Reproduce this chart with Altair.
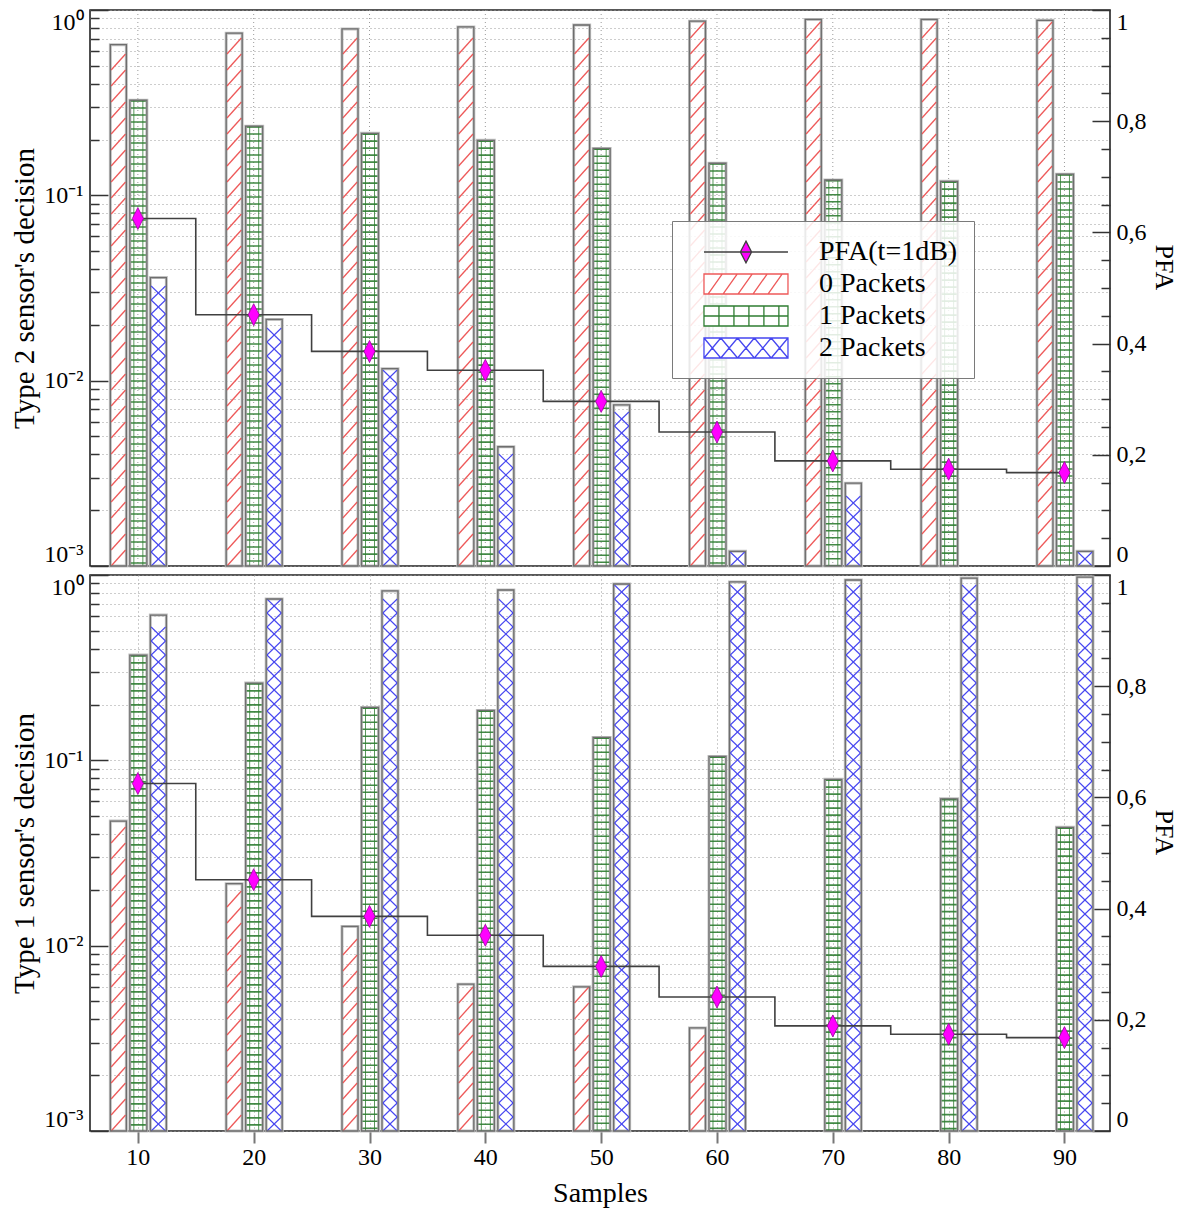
import altair as alt
import pandas as pd
import numpy as np

# ---------------- data ----------------
samples = [10, 20, 30, 40, 50, 60, 70, 80, 90]
pfa = [0.625, 0.452, 0.386, 0.352, 0.296, 0.241, 0.189, 0.174, 0.168]

# Type 2 sensor's decision (top panel)
t2_zero = [0.65, 0.75, 0.79, 0.81, 0.83, 0.87, 0.89, 0.89, 0.88]
t2_one = [0.326, 0.236, 0.216, 0.198, 0.179, 0.149, 0.121, 0.119, 0.130]
t2_two = [0.036, 0.0214, 0.0116, 0.0044, 0.0074, 0.0012, 0.0028, None, 0.0012]

# Type 1 sensor's decision (bottom panel)
t1_zero = [0.047, 0.0216, 0.0127, 0.0062, 0.0060, 0.0036, None, None, None]
t1_one = [0.37, 0.261, 0.193, 0.186, 0.133, 0.105, 0.079, 0.062, 0.0435]
t1_two = [0.608, 0.742, 0.82, 0.83, 0.894, 0.917, 0.94, 0.963, 0.975]

series_names = ["PFA(t=1dB)", "0 Packets", "1 Packets", "2 Packets"]
x_title = "Samples"
y2_title = "PFA"
top_title = "Type 2 sensor's decision"
bottom_title = "Type 1 sensor's decision"
log_major = [0.001, 0.01, 0.1, 1]
log_minor = [m * 10.0 ** e for e in (-3, -2, -1) for m in range(2, 10)]
pfa_major = [0, 0.2, 0.4, 0.6, 0.8, 1]
pfa_minor = [round(0.05 * i, 2) for i in range(21) if i % 4]

# ---------------- layout / style ----------------
W, H = 1020, 556
XDOM = [6.3, 93.5]
PXDEC = H / 3.0
FONT = "Liberation Serif"
RED, GREEN, BLUE = "#ee5a5a", "#2f7d32", "#4646f0"
GRID = dict(grid=True, gridDash=[1, 3], gridColor="#9a9a9a", gridWidth=1)

xsc = alt.Scale(domain=XDOM, nice=False, zero=False)
ylog = alt.Scale(type="log", domain=[0.001, 1], nice=False, clamp=True)
ylin = alt.Scale(domain=[0, 1], nice=False, zero=False)


def x_axis(show):
    if show:
        return alt.Axis(values=samples, title=x_title, labelFontSize=24, titleFontSize=28,
                        tickSize=12, tickColor="#777", tickWidth=2, domain=False,
                        labelPadding=2, titlePadding=10, labelFlush=False, **GRID)
    return None


def log_axis(title):
    return alt.Axis(values=log_major, orient="left", offset=-18, tickSize=18, tickColor="#333",
                    tickWidth=1.5, domain=False, labelFlush=True, labelFontSize=24, labelPadding=7,
                    labelExpr="datum.value >= 0.5 ? '10⁰' : datum.value >= 0.05 ? '10⁻¹' : "
                              "datum.value >= 0.005 ? '10⁻²' : '10⁻³'",
                    title=title, titleFontSize=29, titlePadding=4, **GRID)


minor_log_axis = alt.Axis(values=log_minor, orient="left", offset=-9, tickSize=9, tickColor="#333",
                          tickWidth=1.5, domain=False, labels=False, title=None, **GRID)

pfa_axis = alt.Axis(values=pfa_major, orient="right", offset=-18, tickSize=18, tickColor="#333",
                    tickWidth=1.5, domain=False, grid=False, labelFlush=True, labelFontSize=24,
                    labelPadding=6, labelExpr="replace(format(datum.value, '.1~f'), '.', ',')",
                    title=y2_title, titleFontSize=26, titleAngle=90, titlePadding=4, titleY=H / 2 - 21)

minor_pfa_axis = alt.Axis(values=pfa_minor, orient="right", offset=-9, tickSize=9, tickColor="#333",
                          tickWidth=1.5, domain=False, grid=False, labels=False, title=None)


def hatch_df(vals, step_px, rise_px):
    rows = []
    for s, v in zip(samples, vals):
        if v is None:
            continue
        hpx = (np.log10(v) + 3) * PXDEC
        k = 0
        while k * step_px + rise_px <= hpx + 0.5:
            rows.append({"sample": s, "pos": 10 ** (-3 + k * step_px / PXDEC)})
            k += 1
    return pd.DataFrame(rows, columns=["sample", "pos"])


def bars_group(zero, one, two, ytitle, show_x):
    xa = x_axis(show_x)
    ya = log_axis(ytitle)

    def segs(df, color, lx, rx, yo, y2o, width=1.3):
        return alt.Chart(df).mark_rule(color=color, strokeWidth=width, xOffset=lx, x2Offset=rx,
                                       yOffset=yo, y2Offset=y2o).encode(
            x=alt.X("sample:Q", scale=xsc, axis=xa), x2="sample:Q",
            y=alt.Y("pos:Q", scale=ylog, axis=ya), y2="pos:Q")

    layers = []
    if not show_x:
        # vertical dotted grid at the sample ticks (the top panel has no x axis)
        layers.append(alt.Chart(pd.DataFrame({"sample": samples})).mark_rule(
            color="#9a9a9a", strokeWidth=1, strokeDash=[1, 3]).encode(
            x=alt.X("sample:Q", scale=xsc, axis=xa)))
    specs = [(zero, -19.5, 16), (one, 0.5, 17), (two, 20.5, 16)]
    for i, (vals, c, w) in enumerate(specs):
        df = pd.DataFrame({"sample": samples, "value": vals}).dropna()
        base = alt.Chart(df).encode(x=alt.X("sample:Q", scale=xsc, axis=xa),
                                    y=alt.Y("value:Q", scale=ylog, axis=ya),
                                    y2=alt.Y2Datum(0.001))
        layers.append(base.mark_bar(width=w, xOffset=c, fill="transparent", stroke="#c2c2c2",
                                    strokeWidth=3))
        left, right = c - w / 2 + 0.8, c + w / 2 - 0.8
        if i == 0:
            layers.append(segs(hatch_df(vals, 16, 16), RED, left, right, 0, -16))
        elif i == 1:
            layers.append(base.mark_rule(color=GREEN, strokeWidth=w - 2, strokeDash=[1.6, 5.4],
                                         strokeCap="butt", xOffset=c, opacity=0.9))
            layers.append(base.mark_rule(color=GREEN, strokeWidth=1, xOffset=c - 4.5, opacity=0.8))
            layers.append(base.mark_rule(color=GREEN, strokeWidth=1, xOffset=c + 4.5, opacity=0.8))
        else:
            hd = hatch_df(vals, 14, 14)
            layers.append(segs(hd, BLUE, left, right, 0, -14, 1.1))
            layers.append(segs(hd, BLUE, left, right, -14, 0, 1.1))
        layers.append(base.mark_bar(width=w, xOffset=c, fill="transparent", stroke="#6e6e6e",
                                    strokeWidth=1.3))
    return alt.layer(*layers)


def axis_dummy(values, scale, axis):
    return alt.Chart(pd.DataFrame({"v": values})).mark_point(opacity=0).encode(
        y=alt.Y("v:Q", scale=scale, axis=axis))


def pfa_group(show_x):
    xa = x_axis(show_x)
    df = pd.DataFrame({"sample": samples, "pfa": pfa})
    base = alt.Chart(df).encode(x=alt.X("sample:Q", scale=xsc, axis=xa),
                                y=alt.Y("pfa:Q", scale=ylin, axis=pfa_axis))
    line = base.mark_line(interpolate="step", color="#404040", strokeWidth=1.6)
    pts = base.mark_point(shape="M0,-1L0.5,0L0,1L-0.5,0Z", size=484, filled=True, fill="#ff00ff",
                          stroke="#9a009a", strokeWidth=0.8, opacity=1)
    return alt.layer(line, pts)


# legend symbols (custom paths, units of 14 px)
r, x0 = 0.714, 0.07
p_pfa = f"M{x0},0H{x0+6}M{x0+3},-0.78L{x0+3.4},0L{x0+3},0.78L{x0+2.6},0Z"
rect = f"M{x0},-{r}H{x0+6}V{r}H{x0}Z"
p_zero = rect + "".join(f"M{x0+0.3+1.07*k:.3f},{r}L{x0+1.3+1.07*k:.3f},-{r}" for k in range(5))
p_one = rect + f"M{x0},0H{x0+6}" + "".join(f"M{x0+1.07*k:.3f},-{r}V{r}" for k in range(1, 6))
p_two = rect + "".join(f"M{x0+1.2*k:.3f},{r}L{x0+1.2*(k+1):.3f},-{r}M{x0+1.2*k:.3f},-{r}L{x0+1.2*(k+1):.3f},{r}"
                       for k in range(5))

leg = alt.Legend(title=None, orient="none", legendX=582, legendY=211, padding=16,
                 fillColor="rgba(255,255,255,0.85)", strokeColor="#7a7a7a",
                 symbolSize=784, symbolStrokeWidth=1.3, labelFont=FONT, labelFontSize=28,
                 labelOffset=101, rowPadding=3, zindex=1, labelLimit=0)
legend_layer = alt.Chart(pd.DataFrame({"series": series_names})).transform_filter("false").mark_point(
    filled=True, opacity=1).encode(
    shape=alt.Shape("series:N", scale=alt.Scale(domain=series_names, range=[p_pfa, p_zero, p_one, p_two]),
                    legend=leg),
    fill=alt.Fill("series:N", scale=alt.Scale(domain=series_names,
                                              range=["#ff00ff", "white", "white", "white"]), legend=leg),
    stroke=alt.Stroke("series:N", scale=alt.Scale(domain=series_names,
                                                  range=["#404040", RED, GREEN, BLUE]), legend=leg),
)


def panel(zero, one, two, ytitle, show_x, with_legend):
    layers = [bars_group(zero, one, two, ytitle, show_x),
              axis_dummy(log_minor, ylog, minor_log_axis),
              pfa_group(show_x),
              axis_dummy(pfa_minor, ylin, minor_pfa_axis)]
    if with_legend:
        layers.append(legend_layer)
    return alt.layer(*layers).resolve_scale(y="independent").properties(width=W, height=H)


top = panel(t2_zero, t2_one, t2_two, top_title, False, True)
bottom = panel(t1_zero, t1_one, t1_two, bottom_title, True, False)

chart = alt.vconcat(top, bottom, spacing=-10).properties(padding={"left": 2, "top": 0, "right": 0, "bottom": 0}
).configure_view(stroke="#222", strokeWidth=1.6).configure_axis(
    labelFont=FONT, titleFont=FONT, labelColor="black", titleColor="black", titleFontWeight="normal"
).configure_legend(labelFont=FONT)

chart.save("out.html", embed_options={"renderer": "svg", "actions": False})
